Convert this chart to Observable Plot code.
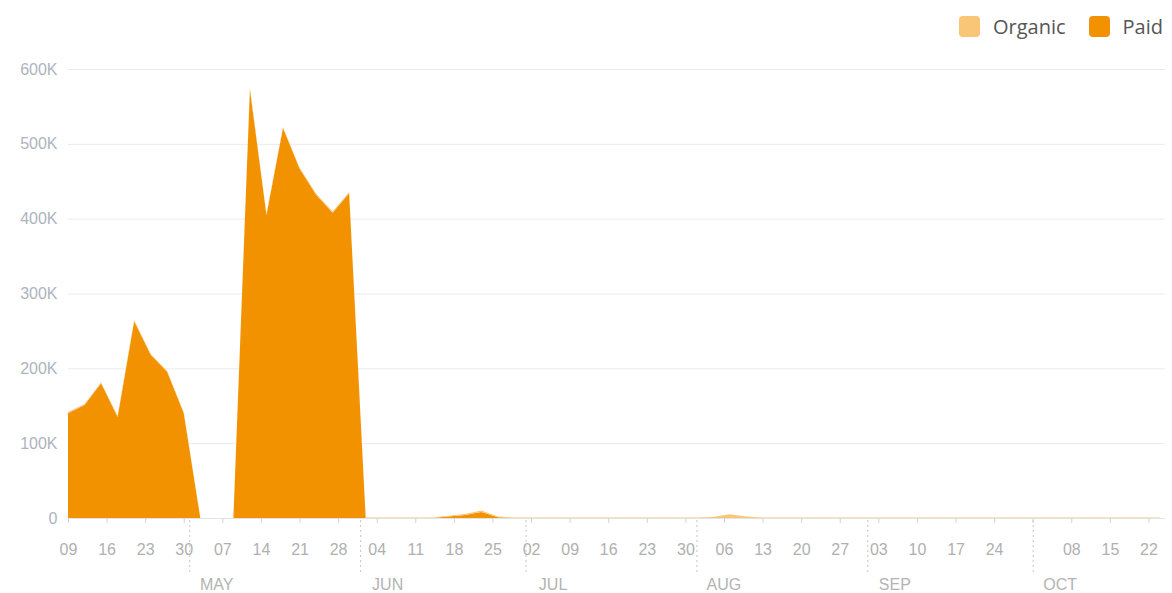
<!DOCTYPE html>
<html><head><meta charset="utf-8">
<script src="https://cdn.jsdelivr.net/npm/d3@7"></script>
<script src="https://cdn.jsdelivr.net/npm/@observablehq/plot@0.6"></script>
<style>
body{margin:0;background:#fff;font-family:"Liberation Sans",Arial,sans-serif;}
#wrap{position:relative;width:1172px;height:593px;}
#legend{position:absolute;top:13px;right:9px;display:flex;align-items:center;font-family:"Open Sans",sans-serif;font-size:20px;color:#555;z-index:2;}
.sw{width:21px;height:21px;border-radius:4px;display:inline-block;margin-right:13px;}
.item{display:flex;align-items:center;margin-left:23px;}
</style></head><body>
<div id="wrap"><div id="legend"></div></div>
<script>
const dates = ["2018-04-09","2018-04-12","2018-04-15","2018-04-18","2018-04-21","2018-04-24","2018-04-27","2018-04-30",
"2018-05-03","2018-05-06","2018-05-09","2018-05-12","2018-05-15","2018-05-18","2018-05-21","2018-05-24","2018-05-27","2018-05-30",
"2018-06-02","2018-06-05","2018-06-08","2018-06-11","2018-06-14","2018-06-17","2018-06-20","2018-06-23","2018-06-26","2018-06-29",
"2018-07-02","2018-07-05","2018-07-08","2018-07-11","2018-07-14","2018-07-17","2018-07-20","2018-07-23","2018-07-26","2018-07-29",
"2018-08-01","2018-08-04","2018-08-07","2018-08-10","2018-08-13","2018-08-16","2018-08-19","2018-08-22","2018-08-25","2018-08-28","2018-08-31",
"2018-09-03","2018-09-06","2018-09-09","2018-09-12","2018-09-15","2018-09-18","2018-09-21","2018-09-24","2018-09-27","2018-09-30",
"2018-10-03","2018-10-06","2018-10-09","2018-10-12","2018-10-15","2018-10-18","2018-10-21","2018-10-24"];

const paid = [140,151,180,135,263,218,195,140,0,0,0,573,405,521,467,432,408,434,
0,0,0,0,0,2,4,8,1,0,
0,0,0,0,0,0,0,0,0,0,
0,0,0,0,0,0,0,0,0,0,0,
0,0,0,0,0,0,0,0,0,0,
0,0,0,0,0,0,0,0];

const organic = [1.5,1.5,1.5,1.5,1.5,1.5,1.5,1.5,0,0,0,1.5,1.5,1.5,1.5,1.5,1.5,1.5,
0.6,0.6,0.6,0.6,0.6,1,1.5,2,1,0.6,
0.6,0.6,0.6,0.6,0.6,0.6,0.6,0.6,0.6,0.6,
0.6,1.5,5,2,0.6,0.6,0.6,0.6,0.6,0.6,0.6,
0.6,0.6,0.6,0.6,0.6,0.6,0.6,0.6,0.6,0.6,
0.6,0.6,0.6,0.6,0.6,0.6,0.6,0.6];

const seriesNames = ["Organic","Paid"];
const seriesColors = ["#f9c677","#f39200"];
const yTicks = [0,100000,200000,300000,400000,500000,600000];
const months = ["MAY","JUN","JUL","AUG","SEP","OCT"];
const monthStarts = ["2018-05-01","2018-06-01","2018-07-01","2018-08-01","2018-09-01","2018-10-01"];
const hiddenTickLabels = ["2018-10-01"];
const xStart = "2018-04-09", xEnd = "2018-10-25";

const parse = d3.utcParse("%Y-%m-%d");
const table = [];
dates.forEach((d,i) => {
  table.push({date: parse(d), series: "Paid", value: paid[i]*1000});
  table.push({date: parse(d), series: "Organic", value: organic[i]*1000});
});
const mStarts = monthStarts.map(parse);
const monthData = months.map((m,i) => ({label: m, date: mStarts[i]}));
const hidden = new Set(hiddenTickLabels);
const fmtDay = d3.utcFormat("%d"), fmtIso = d3.utcFormat("%Y-%m-%d");
const weekTicks = d3.utcMonday.range(parse(xStart), parse(xEnd));

const chart = Plot.plot({
  width: 1172, height: 593,
  marginTop: 69, marginBottom: 75, marginLeft: 68, marginRight: 7,
  style: {fontFamily: "'Liberation Sans', Arial, sans-serif", fontSize: "16px", background: "#fff"},
  x: {type: "utc", domain: [parse(xStart), parse(xEnd)]},
  y: {domain: [0, 600000]},
  color: {domain: seriesNames, range: seriesColors},
  marks: [
    Plot.gridY({ticks: yTicks, stroke: "#e9ebef", strokeOpacity: 1}),
    Plot.areaY(table, {x: "date", y: "value", fill: "series", order: ["Paid","Organic"], curve: "linear"}),
    Plot.ruleY([0], {stroke: "#e3e3e3"}),
    Plot.axisY({ticks: yTicks, tickSize: 0, tickPadding: 11, fill: "#aeb3c0", fontSize: 16,
      tickFormat: d => d === 0 ? "0" : (d/1000) + "K", label: null}),
    Plot.axisX({ticks: weekTicks, tickSize: 5, tickPadding: 20, stroke: "#d3d3d3", fill: "#b0b0b0", fontSize: 16,
      tickFormat: d => hidden.has(fmtIso(d)) ? "" : fmtDay(d), label: null}),
    Plot.ruleX(mStarts, {stroke: "#c4c4c4", strokeDasharray: "2,3", insetTop: 451, insetBottom: -54}),
    Plot.text(monthData, {x: "date", y: () => 0, text: "label", dx: 27, dy: 66, fill: "#b3b3b3", fontSize: 16})
  ]
});
document.getElementById("wrap").appendChild(chart);

const legend = document.getElementById("legend");
seriesNames.forEach((n,i) => {
  const it = document.createElement("div"); it.className = "item";
  const sw = document.createElement("span"); sw.className = "sw"; sw.style.background = seriesColors[i];
  const tx = document.createElement("span"); tx.textContent = n;
  it.appendChild(sw); it.appendChild(tx); legend.appendChild(it);
});
</script>
</body></html>
